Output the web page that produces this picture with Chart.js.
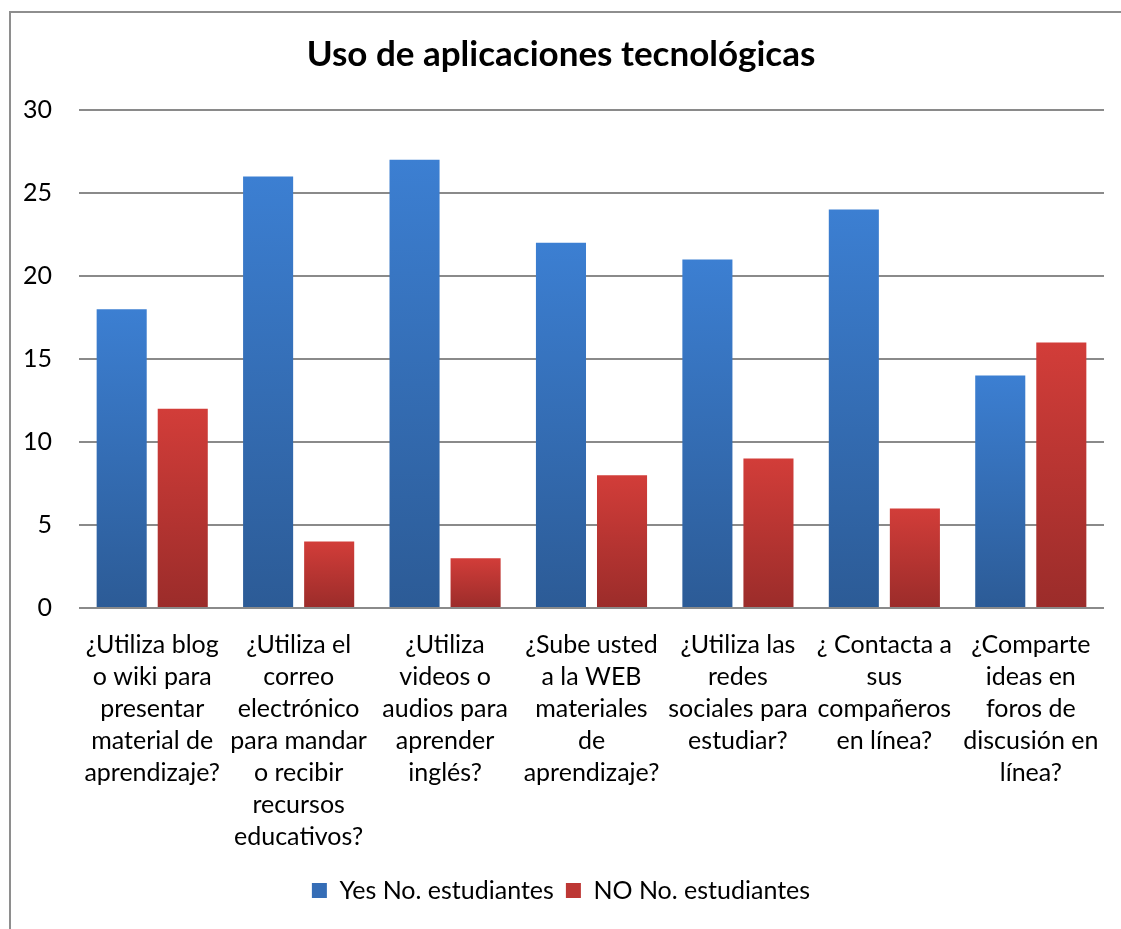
<!DOCTYPE html>
<html>
<head>
<meta charset="utf-8">
<script src="https://cdn.jsdelivr.net/npm/chart.js@4/dist/chart.umd.min.js"></script>
<style>
  html, body { margin: 0; padding: 0; background: #fff; overflow: hidden; }
  #frame {
    position: absolute; left: 9px; top: 11px; width: 1300px; height: 1100px;
    border-left: 2px solid #8e8e8e; border-top: 2px solid #8e8e8e;
  }
  #wrap { position: absolute; left: 0; top: 0; width: 1121px; height: 929px; }
</style>
</head>
<body>
<div id="frame"></div>
<div id="wrap"><canvas id="myChart"></canvas></div>
<script>
// Categories (multi-line labels as in the picture)
const categories = [
    ['¿Utiliza blog', 'o wiki para', 'presentar', 'material de', 'aprendizaje?'],
    ['¿Utiliza el', 'correo', 'electrónico', 'para mandar', 'o recibir', 'recursos', 'educativos?'],
    ['¿Utiliza', 'videos o', 'audios para', 'aprender', 'inglés?'],
    ['¿Sube usted', 'a la WEB', 'materiales', 'de', 'aprendizaje?'],
    ['¿Utiliza las', 'redes', 'sociales para', 'estudiar?'],
    ['¿ Contacta a', 'sus', 'compañeros', 'en línea?'],
    ['¿Comparte', 'ideas en', 'foros de', 'discusión en', 'línea?'],
];

// Series values
const yesValues = [18, 26, 27, 22, 21, 24, 14];
const noValues = [12, 4, 3, 8, 9, 6, 16];

// Y axis ticks
const yTicks = [0, 5, 10, 15, 20, 25, 30];

const FONT = 'Lato, "Open Sans", sans-serif';
const PAD_LEFT = 18;

// Vertical gradient per bar, light at top, dark at bottom
function barGradient(top, bottom, mid) {
    return function (context) {
        if (context.type !== 'data') return mid;
        const chart = context.chart;
        if (!chart.chartArea || !chart.scales.y) return mid;
        const y = chart.scales.y;
        const y0 = y.getPixelForValue(context.raw);
        const y1 = y.getPixelForValue(0);
        if (!isFinite(y0) || !isFinite(y1) || y0 === y1) return mid;
        const g = chart.ctx.createLinearGradient(0, y0, 0, y1);
        g.addColorStop(0, top);
        g.addColorStop(1, bottom);
        return g;
    };
}

const data = {
    labels: categories,
    datasets: [{
        label: 'Yes No. estudiantes',
        data: yesValues,
        backgroundColor: barGradient('#3c7fd2', '#2c5b96', '#356db6'),
        borderWidth: 0,
    }, {
        label: 'NO No. estudiantes',
        data: noValues,
        backgroundColor: barGradient('#d23d39', '#9b2c2a', '#bd3734'),
        borderWidth: 0,
    }],
};

const config = {
    type: 'bar',
    data: data,
    options: {
        responsive: true,
        maintainAspectRatio: false,
        animation: false,
        categoryPercentage: 0.834,
        barPercentage: 0.82,
        layout: {
            padding: { left: PAD_LEFT, right: 17, top: 0, bottom: 16 },
        },
        plugins: {
            title: {
                display: true,
                text: 'Uso de aplicaciones tecnológicas',
                color: '#000',
                font: { family: FONT, size: 35, weight: 'bold' },
                padding: { top: 34, bottom: 34 },
            },
            legend: {
                position: 'bottom',
                labels: {
                    color: '#000',
                    font: { family: FONT, size: 25 },
                    boxWidth: 15,
                    boxHeight: 15,
                    padding: 12,
                    generateLabels: function (chart) {
                        const mids = ['#356db6', '#bd3734'];
                        return chart.data.datasets.map((ds, i) => ({
                            text: ds.label,
                            fillStyle: mids[i],
                            strokeStyle: mids[i],
                            lineWidth: 0,
                            fontColor: '#000',
                            hidden: !chart.isDatasetVisible(i),
                            datasetIndex: i,
                        }));
                    },
                },
            },
            tooltip: { enabled: false },
        },
        scales: {
            x: {
                grid: { display: false },
                border: { display: false },
                ticks: {
                    color: '#000',
                    font: { family: FONT, size: 25, lineHeight: 1.28 },
                    autoSkip: false,
                    maxRotation: 0,
                    minRotation: 0,
                    padding: 13,
                },
            },
            y: {
                min: 0,
                max: 30,
                afterBuildTicks: function (axis) {
                    axis.ticks = yTicks.map(v => ({ value: v }));
                },
                afterFit: function (axis) {
                    axis.width = 79 - PAD_LEFT;
                },
                grid: { color: '#8a8a8a', lineWidth: 2, drawTicks: false },
                border: { display: false },
                ticks: {
                    color: '#000',
                    font: { family: FONT, size: 25 },
                    padding: 27,
                },
            },
        },
    },
};

const ctx = document.getElementById('myChart').getContext('2d');
const myChart = new Chart(ctx, config);
</script>
</body>
</html>
